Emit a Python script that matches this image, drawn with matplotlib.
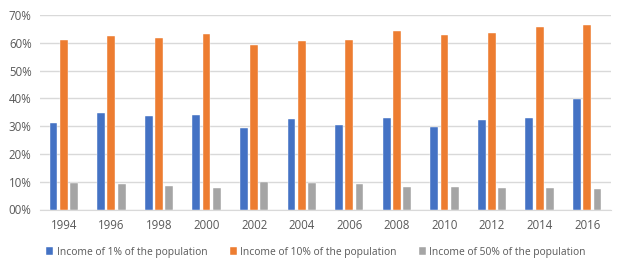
import matplotlib

matplotlib.use("Agg")

import matplotlib.pyplot as plt
import numpy as np
from matplotlib.ticker import FuncFormatter

years = ["1994", "1996", "1998", "2000", "2002", "2004",
         "2006", "2008", "2010", "2012", "2014", "2016"]
top_1 = [31.0, 34.6, 33.7, 33.9, 29.4, 32.4, 30.5, 33.0, 29.8, 32.1, 33.0, 39.7]
top_10 = [60.9, 62.3, 61.9, 63.1, 59.1, 60.7, 60.9, 64.1, 62.8, 63.7, 65.8, 66.4]
top_50 = [9.4, 9.1, 8.6, 7.9, 9.8, 9.6, 9.2, 8.2, 8.2, 7.7, 7.7, 7.4]

series = [
    ("Income of 1% of the population", top_1, "#4472C4"),
    ("Income of 10% of the population", top_10, "#ED7D31"),
    ("Income of 50% of the population", top_50, "#A5A5A5"),
]

plt.rcParams["font.family"] = ["Open Sans", "DejaVu Sans"]
text_color = "#595959"

fig = plt.figure(figsize=(6.26, 2.71), dpi=100)
ax = fig.add_axes([40 / 626, 1 - 209.5 / 271, 571 / 626, 194.5 / 271])

x = np.arange(len(years))
width = 0.165
pitch = 0.215
for i, (label, values, color) in enumerate(series):
    ax.bar(x + (i - 1) * pitch, values, width, color=color, label=label,
           edgecolor="white", linewidth=0.3, zorder=3)

ax.set_xlim(-0.5, len(years) - 0.5)
ax.set_ylim(0, 70)
ax.set_yticks(np.arange(0, 71, 10))
ax.yaxis.set_major_formatter(FuncFormatter(lambda v, _: f"{int(v):02d}%"))
ax.set_xticks(x)
ax.set_xticklabels(years)
ax.grid(axis="y", color="#D9D9D9", linewidth=1.0, zorder=0)
for side in ["top", "right", "left"]:
    ax.spines[side].set_visible(False)
ax.spines["bottom"].set_color("#D9D9D9")
ax.tick_params(axis="both", length=0, labelsize=8.3, colors=text_color)
ax.tick_params(axis="x", pad=7)
ax.tick_params(axis="y", pad=6)

fig.legend(loc="center", bbox_to_anchor=(0.505, 1 - 252 / 271), ncol=3,
           frameon=False, fontsize=7.4, handlelength=0.7, handleheight=0.7,
           handletextpad=0.3, columnspacing=2.2, labelcolor=text_color)

fig.savefig("out.png", dpi=100)
